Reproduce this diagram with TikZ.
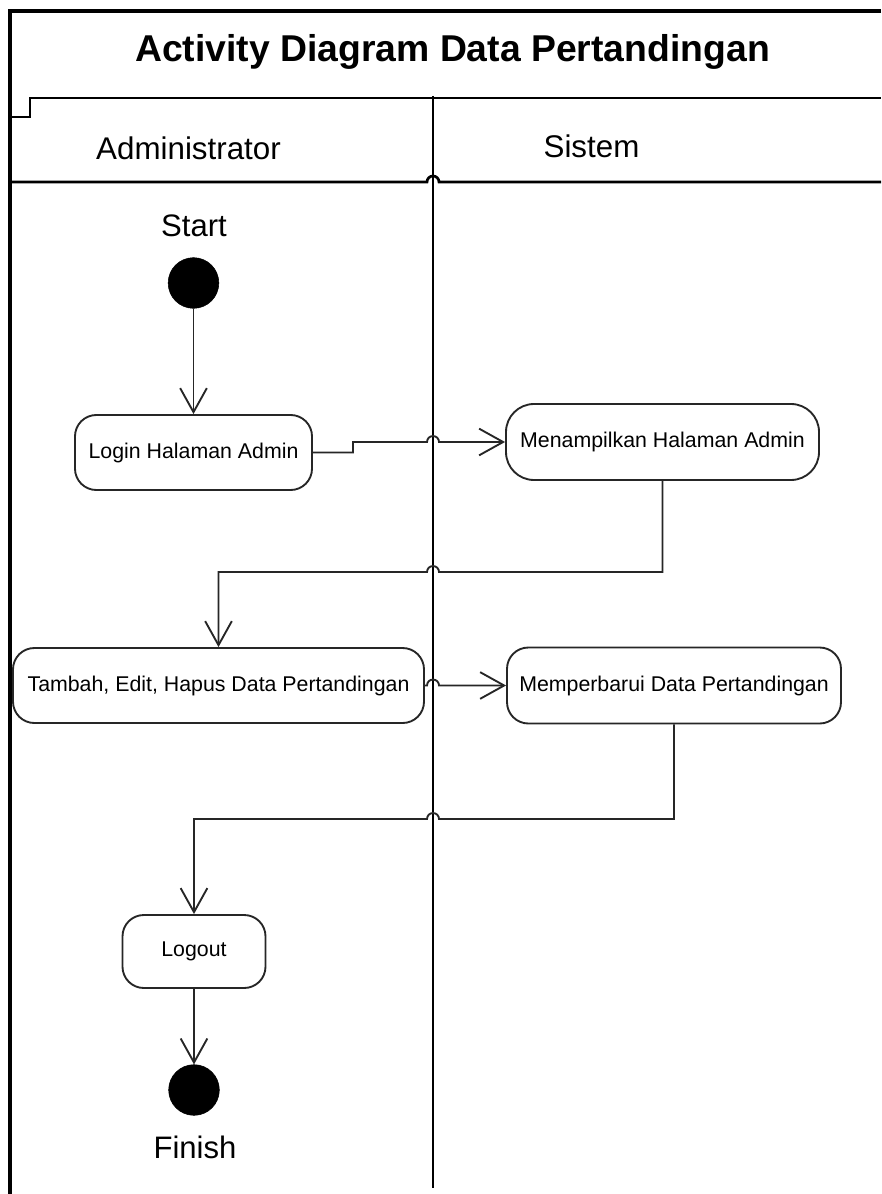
\documentclass[tikz,border=0pt]{standalone}
\usepackage{fontspec}
\setmainfont{Liberation Sans}
\usetikzlibrary{arrows.meta}

\begin{document}
\begin{tikzpicture}[x=0.75pt, y=-0.75pt,
  frameline/.style={line width=2pt, draw=black},
  flow/.style={line width=1.4pt, draw=black!85, -{Straight Barb[length=18pt, width=20pt, line width=1.4pt]}},
  action/.style={draw=black!85, line width=1.4pt, fill=white, rounded corners=16pt,
    inner sep=0pt, font=\fontsize{16}{19}\selectfont},
  dot/.style={circle, fill=black, draw=black, inner sep=0pt, minimum size=38pt},
  lanelabel/.style={anchor=base, font=\fontsize{23.5}{28}\selectfont},
  marklabel/.style={anchor=base, font=\fontsize{23.3}{28}\selectfont}
]
\useasboundingbox (0,0) rectangle (881,1194);
\fill[white] (0,0) rectangle (881,1194);

% frame and title
\draw[frameline, line width=2.4pt] (881,11) -- (10,11) -- (10,1194);
\node[anchor=base, font=\fontsize{28}{32}\selectfont\bfseries] (title) at (452.5,62) {Activity Diagram Data Pertandingan};

% swimlane header
\draw[frameline] (10,117) -- (30,117) -- (30,98) -- (881,98);
\draw[frameline] (10,182) -- (427,182) arc[start angle=180, end angle=360, radius=6] -- (881,182);
\draw[frameline, line width=2.2pt] (433,96) -- (433,1188);
\node[lanelabel] (admin) at (188.5,160) {Administrator};
\node[lanelabel] (sistem) at (591.5,158) {Sistem};

% start / finish
\node[marklabel] (startlbl) at (194,237) {Start};
\node[dot] (start) at (193.5,283) {};
\node[dot] (finish) at (194,1090) {};
\node[marklabel] (finishlbl) at (195,1158) {Finish};

% actions
\node[action, minimum width=177.75pt, minimum height=56.25pt] (login) at (193.5,452.5) {Login Halaman Admin};
\node[action, minimum width=234.75pt, minimum height=57pt, rounded corners=21pt] (mena) at (662.5,442) {Menampilkan Halaman Admin};
\node[action, minimum width=308.25pt, minimum height=56.25pt] (tambah) at (218.5,685.5) {Tambah, Edit, Hapus Data Pertandingan};
\node[action, minimum width=250.5pt, minimum height=57pt] (perbarui) at (674,685.5) {Memperbarui Data Pertandingan};
\node[action, minimum width=107.25pt, minimum height=54.75pt] (logout) at (194,951.5) {Logout};

% control flow
\draw[flow] (start) -- (login.north -| start);
\draw[flow] (login.east) -- (353,452.5) -- (353,442) -- (427,442)
  arc[start angle=180, end angle=360, radius=6] -- (mena.west);
\draw[flow] (mena.south) -- (662.5,572) -- (439,572)
  arc[start angle=0, end angle=-180, radius=6] -- (218.5,572) -- (tambah.north);
\draw[flow] (tambah.east) -- (427,685.5)
  arc[start angle=180, end angle=360, radius=6] -- (perbarui.west);
\draw[flow] (perbarui.south) -- (674,819) -- (439,819)
  arc[start angle=0, end angle=-180, radius=6] -- (194,819) -- (logout.north);
\draw[flow] (logout.south) -- (finish.north);
\end{tikzpicture}
\end{document}
